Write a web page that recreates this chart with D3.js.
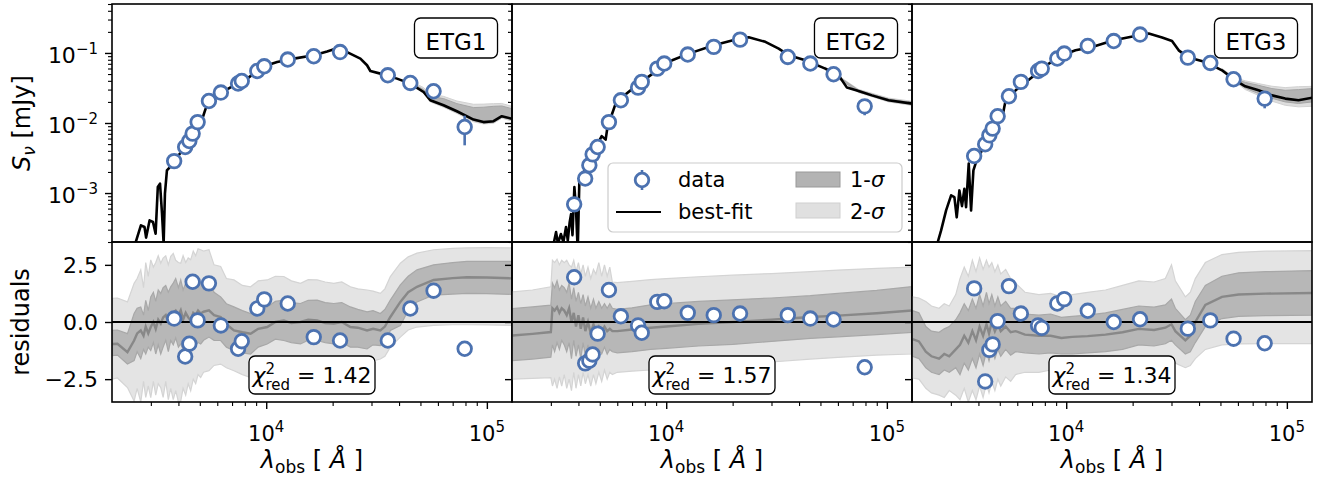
<!DOCTYPE html>
<html>
<head>
<meta charset="utf-8">
<script src="https://cdn.jsdelivr.net/npm/d3@7"></script>
<style>
  body { margin: 0; background: #fff; }
  text { font-family: "DejaVu Sans", sans-serif; fill: #000; }
</style>
</head>
<body>
<svg id="chart" width="1321" height="479"></svg>
<script>
// ---- data ----
const galaxies = ["ETG1", "ETG2", "ETG3"];
const chi2 = ["1.42", "1.57", "1.34"];

// photometric band centres [Angstrom], shared by all three galaxies
const bandWave = [3826, 4292, 4483, 4640, 4888, 5500, 6230, 7455, 7747, 9108, 9795, 12520, 16420, 21610, 35570, 44980, 57340, 79330];

// observed flux densities [mJy]
const etg1Flux = [2.86e-3, 4.54e-3, 5.53e-3, 7.06e-3, 1.03e-2, 2.06e-2, 2.72e-2, 3.66e-2, 3.98e-2, 5.53e-2, 6.45e-2, 8.05e-2, 8.97e-2, 0.103, 4.8e-2, 3.73e-2, 2.84e-2, 8.77e-3];
const etg2Flux = [6.9e-4, 1.61e-3, 2.49e-3, 3.57e-3, 4.54e-3, 1.03e-2, 2.11e-2, 3.2e-2, 3.86e-2, 5.98e-2, 7.06e-2, 9.49e-2, 0.122, 0.155, 8.77e-2, 7.06e-2, 4.97e-2, 1.73e-2];
const etg3Flux = [3.38e-3, 4.97e-3, 6.67e-3, 8.32e-3, 1.25e-2, 2.41e-2, 3.86e-2, 5.53e-2, 5.98e-2, 8.32e-2, 9.8e-2, 0.126, 0.148, 0.183, 8.59e-2, 7.2e-2, 4.21e-2, 2.23e-2];

// flux errors [mJy]
const etg1Err = [1.2e-4, 1.8e-4, 2.2e-4, 2.8e-4, 4e-4, 8e-4, 1e-3, 1.3e-3, 1.4e-3, 2e-3, 2.3e-3, 2.8e-3, 3e-3, 3.5e-3, 1.8e-3, 1.5e-3, 1.6e-3, 3.97e-3];
const etg2Err = [4e-5, 8e-5, 1.1e-4, 1.5e-4, 1.8e-4, 4e-4, 8e-4, 1.2e-3, 1.4e-3, 2e-3, 2.5e-3, 3.3e-3, 4e-3, 5e-3, 3e-3, 2.5e-3, 2.5e-3, 4.4e-3];
const etg3Err = [1.4e-4, 2e-4, 2.6e-4, 3.2e-4, 5e-4, 9e-4, 1.4e-3, 2e-3, 2.2e-3, 3e-3, 3.5e-3, 4.5e-3, 5e-3, 6e-3, 3e-3, 2.6e-3, 2.5e-3, 6.1e-3];

// normalised residuals
const etg1Resid = [0.15, -1.51, -0.95, 1.76, 0.07, 1.69, -0.15, -1.17, -0.84, 0.59, 0.99, 0.81, -0.66, -0.81, -0.81, 0.59, 1.37, -1.17];
const etg2Resid = [1.96, -1.81, -1.69, -1.42, -0.51, 1.40, 0.25, -0.15, -0.47, 0.88, 0.91, 0.40, 0.30, 0.37, 0.30, 0.15, 0.11, -1.98];
const etg3Resid = [1.47, -2.60, -1.22, -0.98, 0.04, 1.57, 0.37, -0.15, -0.26, 0.81, 1.00, 0.49, 0.00, 0.12, -0.29, 0.07, -0.73, -0.93];

// best-fit model spectra [wavelength, mJy]
const etg1Model = [[2400, 1.0e-4], [2570, 2.06e-4], [2704, 3.46e-4], [2808, 3.27e-4], [2855, 2.31e-4], [2960, 4.07e-4], [3067, 3.86e-4], [3153, 2.63e-4], [3226, 1.22e-3], [3301, 1.36e-3], [3370, 5.1e-4], [3428, 1.9e-4], [3475, 9.8e-4], [3548, 2.11e-3], [3661, 2.35e-3], [3770, 2.63e-3], [3955, 3.27e-3], [4390, 5.07e-3], [4873, 8.77e-3], [5133, 1.15e-2], [5315, 1.6e-2], [5503, 2.0e-2], [6216, 2.68e-2], [7140, 3.45e-2], [8204, 4.3e-2], [9107, 5.53e-2], [10104, 6.67e-2], [11210, 7.44e-2], [13340, 8.3e-2], [16430, 9.27e-2], [18880, 0.105], [20590, 0.115], [23250, 0.103], [26720, 8.3e-2], [28640, 6.67e-2], [29650, 5.53e-2], [32910, 5.07e-2], [39150, 4.3e-2], [44980, 3.65e-2], [51680, 2.77e-2], [55410, 2.11e-2], [63650, 1.79e-2], [73140, 1.47e-2], [87040, 1.12e-2], [96600, 1.03e-2], [107200, 1.06e-2], [116900, 1.25e-2], [129800, 1.15e-2]];
const etg2Model = [[3000, 1.0e-4], [3100, 2.0e-4], [3168, 2.77e-4], [3230, 1.9e-4], [3330, 2.6e-4], [3420, 2.0e-4], [3515, 3.27e-4], [3580, 2.1e-4], [3650, 3.8e-4], [3704, 5.0e-4], [3760, 2.5e-4], [3835, 1.22e-3], [3900, 6e-4], [3971, 1.5e-4], [4040, 1.52e-3], [4180, 1.8e-3], [4400, 2.8e-3], [4659, 4.5e-3], [4959, 5.5e-3], [5100, 6.5e-3], [5315, 5.8e-3], [5450, 1.0e-2], [5656, 1.29e-2], [5898, 1.89e-2], [6323, 2.35e-2], [7520, 3.65e-2], [9107, 5.65e-2], [10645, 7.86e-2], [12660, 9.78e-2], [16430, 0.129], [21320, 0.16], [23660, 0.168], [28140, 0.144], [32340, 0.115], [35890, 9.27e-2], [42710, 7.86e-2], [52600, 5.97e-2], [60430, 4.8e-2], [65920, 3.2e-2], [74420, 2.86e-2], [85530, 2.48e-2], [101700, 2.11e-2], [130600, 1.89e-2]];
const etg3Model = [[2560, 1.0e-4], [2617, 2.0e-4], [2710, 2.93e-4], [2855, 5.66e-4], [3008, 9.27e-4], [3113, 8.77e-4], [3189, 4.5e-4], [3280, 1.09e-3], [3370, 6.5e-4], [3455, 1.15e-3], [3516, 6.3e-4], [3615, 2.63e-3], [3705, 5.66e-4], [3796, 2.11e-3], [3902, 2.77e-3], [4315, 5.2e-3], [4789, 9.78e-3], [5133, 1.22e-2], [5315, 2.11e-2], [5898, 2.93e-2], [7019, 4.54e-2], [8349, 7.05e-2], [9592, 9.27e-2], [11020, 0.109], [13110, 0.122], [16430, 0.152], [21320, 0.179], [23660, 0.189], [27200, 0.166], [30170, 0.148], [32340, 0.109], [35890, 8.58e-2], [42710, 7.44e-2], [50810, 5.65e-2], [58370, 4.07e-2], [64790, 3.34e-2], [74420, 2.93e-2], [85530, 2.48e-2], [98280, 2.23e-2], [112900, 2.11e-2], [130600, 2.3e-2]];

// model uncertainty on the flux tail [wavelength, lo2, lo1, hi1, hi2]
const etg1TopBand = [[44980, 3.5e-2, 3.6e-2, 3.8e-2, 4.0e-2], [51680, 2.65e-2, 2.72e-2, 3.0e-2, 3.2e-2], [55410, 2.0e-2, 2.07e-2, 2.4e-2, 2.6e-2], [63650, 1.68e-2, 1.73e-2, 2.23e-2, 2.4e-2], [73140, 1.37e-2, 1.42e-2, 1.89e-2, 2.06e-2], [87040, 1.04e-2, 1.08e-2, 1.66e-2, 1.85e-2], [96600, 9.7e-3, 1.0e-2, 1.68e-2, 1.86e-2], [107200, 9.9e-3, 1.02e-2, 1.73e-2, 1.89e-2], [116900, 1.17e-2, 1.21e-2, 1.75e-2, 1.9e-2], [129800, 1.07e-2, 1.11e-2, 1.6e-2, 1.73e-2]];
const etg2TopBand = [[52600, 5.7e-2, 5.8e-2, 6.15e-2, 6.3e-2], [74420, 2.72e-2, 2.78e-2, 2.95e-2, 3.02e-2], [101700, 2.0e-2, 2.05e-2, 2.2e-2, 2.27e-2], [130600, 1.78e-2, 1.83e-2, 1.97e-2, 2.04e-2]];
const etg3TopBand = [[50810, 5.4e-2, 5.5e-2, 5.85e-2, 6.0e-2], [58370, 3.85e-2, 3.95e-2, 4.25e-2, 4.4e-2], [64790, 3.0e-2, 3.15e-2, 3.8e-2, 4.0e-2], [74420, 2.48e-2, 2.63e-2, 3.45e-2, 3.65e-2], [85530, 2.05e-2, 2.25e-2, 3.1e-2, 3.35e-2], [98280, 1.79e-2, 2.0e-2, 2.93e-2, 3.2e-2], [112900, 1.7e-2, 1.9e-2, 3.0e-2, 3.3e-2], [130600, 1.73e-2, 2.0e-2, 3.1e-2, 3.34e-2]];

// residual of the model posterior [wavelength, lo2, lo1, median, hi1, hi2]
const etg1ResBand = [[2010, -2.5, -1.47, -0.96, -0.37, 1.03], [2117, -2.45, -1.45, -0.95, -0.35, 1.05], [2350, -2.87, -1.84, -1.32, -0.51, 0.88], [2519, -3.46, -1.69, -0.81, 0.37, 1.69], [2600, -2.9, -1.3, -0.5, 0.6, 1.9], [2700, -3.5, -1.6, -0.37, 0.66, 2.28], [2780, -2.6, -1.2, -0.6, 0.3, 1.5], [2844, -3.3, -1.4, -0.2, 0.95, 2.6], [2920, -2.8, -1.1, -0.5, 0.5, 2.0], [2997, -3.31, -1.25, -0.22, 1.10, 2.72], [3080, -2.6, -0.9, 0.0, 1.3, 2.4], [3157, -3.2, -1.4, -0.3, 0.9, 2.6], [3240, -2.7, -1.0, 0.1, 1.4, 2.9], [3326, -2.87, -1.40, -0.07, 1.25, 2.57], [3410, -3.3, -1.1, 0.2, 1.5, 2.8], [3504, -2.6, -0.8, 0.3, 1.6, 2.9], [3600, -3.4, -1.3, 0.0, 1.3, 2.5], [3692, -2.9, -0.81, 0.22, 1.54, 2.87], [3790, -3.4, -1.0, 0.4, 1.7, 3.0], [3888, -3.0, -0.7, 0.5, 1.9, 2.7], [4000, -3.5, -1.1, 0.3, 1.5, 2.6], [4098, -3.46, -0.96, 0.51, 1.84, 2.57], [4200, -2.9, -1.2, 0.1, 1.4, 2.9], [4315, -3.2, -0.9, 0.4, 1.7, 2.6], [4430, -2.7, -1.1, 0.2, 1.5, 2.8], [4546, -3.01, -1.10, 0.07, 1.54, 2.72], [4670, -2.5, -0.8, 0.4, 1.8, 3.1], [4789, -2.7, -1.0, 0.3, 1.6, 2.9], [4910, -2.3, -0.9, 0.5, 1.9, 3.2], [5046, -2.43, -0.96, 0.37, 1.69, 3.16], [5200, -2.2, -0.8, 0.45, 1.8, 3.1], [5503, -2.13, -0.66, 0.51, 1.84, 3.16], [5800, -1.9, -0.8, 0.3, 1.3, 2.5], [6216, -1.84, -0.81, 0.22, 1.10, 2.43], [6600, -2.0, -1.1, -0.1, 0.8, 1.9], [7140, -2.13, -1.25, -0.37, 0.66, 1.84], [7800, -2.3, -1.35, -0.45, 0.5, 1.6], [8494, -2.43, -1.40, -0.51, 0.37, 1.54], [9200, -2.1, -1.1, -0.3, 0.6, 1.8], [10104, -1.84, -0.96, -0.22, 0.66, 1.84], [11000, -1.6, -0.75, 0.0, 0.9, 2.0], [12020, -1.54, -0.81, 0.07, 0.96, 1.99], [13000, -1.7, -0.9, -0.05, 0.85, 1.8], [14300, -1.69, -0.96, 0.0, 0.81, 1.69], [15500, -1.55, -0.8, 0.1, 0.95, 1.85], [17010, -1.54, -0.81, 0.07, 0.96, 1.84], [18500, -1.65, -0.9, -0.05, 0.85, 1.75], [20240, -1.69, -0.96, -0.07, 0.81, 1.69], [22000, -1.6, -0.9, 0.0, 0.85, 1.75], [24070, -1.76, -1.10, -0.22, 0.66, 1.54], [26000, -1.8, -1.1, -0.25, 0.55, 1.45], [28640, -1.84, -1.18, -0.37, 0.44, 1.40], [30500, -1.7, -1.0, -0.3, 0.5, 1.35], [32910, -1.62, -1.03, -0.37, 0.37, 1.25], [34500, -1.5, -0.9, -0.2, 0.55, 1.45], [36520, -1.10, -0.37, 0.22, 0.96, 1.99], [40540, -0.66, -0.15, 0.88, 1.62, 2.57], [44000, -0.35, 0.5, 1.3, 2.0, 2.85], [48230, -0.22, 0.88, 1.54, 2.28, 3.01], [57380, -0.15, 1.18, 1.84, 2.50, 3.16], [70000, -0.12, 1.22, 1.92, 2.6, 3.22], [81210, -0.12, 1.25, 1.96, 2.65, 3.24], [100000, -0.13, 1.24, 1.95, 2.65, 3.25], [129800, -0.15, 1.21, 1.91, 2.65, 3.24]];
const etg2ResBand = [[2010, -2.5, -1.69, -0.59, 0.59, 1.32], [2476, -2.47, -1.62, -0.52, 0.66, 1.40], [3000, -2.43, -1.54, -0.44, 0.74, 1.54], [3050, -2.8, -1.0, 0.6, 1.7, 2.7], [3120, -2.5, -1.3, 0.5, 1.5, 2.6], [3200, -2.9, -0.9, 0.65, 1.8, 2.75], [3280, -2.4, -1.2, 0.4, 1.4, 2.5], [3360, -2.8, -0.8, 0.6, 1.6, 2.7], [3450, -2.3, -1.0, 0.5, 1.5, 2.6], [3540, -2.9, -1.3, 0.3, 1.3, 2.7], [3630, -2.5, -0.9, 0.6, 1.7, 2.5], [3720, -3.0, -1.6, 0.0, 1.0, 2.4], [3810, -2.2, -0.8, 0.4, 1.5, 2.7], [3900, -2.9, -1.5, -0.2, 0.9, 2.2], [4000, -2.3, -1.0, 0.3, 1.3, 2.6], [4100, -2.8, -1.6, -0.3, 0.8, 2.1], [4200, -2.2, -0.9, 0.2, 1.2, 2.5], [4300, -2.7, -1.5, -0.4, 0.7, 2.0], [4420, -2.3, -1.0, 0.0, 1.1, 2.4], [4550, -2.8, -1.6, -0.5, 0.6, 1.9], [4680, -2.3, -1.1, -0.1, 1.0, 2.3], [4800, -2.7, -1.5, -0.4, 0.6, 2.1], [4950, -2.2, -1.2, -0.2, 0.9, 2.6], [5100, -2.6, -1.4, -0.4, 0.6, 2.0], [5250, -2.1, -1.1, -0.2, 0.8, 2.5], [5400, -2.5, -1.4, -0.4, 0.6, 2.0], [5550, -2.2, -1.2, -0.3, 0.8, 2.4], [5700, -2.3, -1.3, -0.4, 0.6, 1.75], [6000, -2.2, -1.35, -0.4, 0.55, 1.72], [7000, -2.15, -1.3, -0.33, 0.62, 1.78], [8500, -2.1, -1.2, -0.25, 0.75, 1.85], [10000, -2.05, -1.15, -0.2, 0.8, 1.9], [14000, -1.95, -1.05, -0.08, 0.9, 1.98], [20000, -1.85, -0.98, 0.0, 0.97, 2.05], [30000, -1.75, -0.85, 0.1, 1.05, 2.12], [45000, -1.62, -0.72, 0.22, 1.15, 2.2], [60000, -1.55, -0.65, 0.28, 1.25, 2.27], [90000, -1.45, -0.55, 0.38, 1.38, 2.35], [130000, -1.4, -0.45, 0.5, 1.55, 2.4]];
const etg3ResBand = [[2010, -2.45, -1.5, -0.75, 0.5, 1.1], [2150, -2.5, -1.6, -0.85, 0.4, 1.05], [2310, -2.9, -2.0, -1.3, -0.2, 0.9], [2450, -3.1, -2.2, -1.5, -0.4, 0.7], [2653, -3.2, -2.3, -1.6, -0.45, 0.6], [2800, -3.3, -2.1, -1.4, -0.3, 0.8], [2950, -3.0, -2.2, -1.5, -0.2, 0.7], [3157, -3.2, -2.0, -1.2, 0.1, 1.2], [3300, -3.4, -2.3, -1.0, 0.4, 1.9], [3450, -2.9, -1.8, -0.6, 0.8, 2.4], [3600, -3.5, -2.1, -0.9, 0.5, 2.0], [3755, -3.0, -1.6, -0.4, 1.0, 2.7], [3900, -3.4, -2.0, -0.8, 0.6, 2.2], [4050, -2.8, -1.4, -0.2, 1.2, 2.8], [4200, -3.3, -1.9, -0.6, 0.7, 2.3], [4350, -2.7, -1.3, -0.1, 1.3, 2.7], [4468, -3.1, -1.7, -0.5, 0.8, 2.4], [4600, -2.6, -1.2, 0.0, 1.2, 2.6], [4750, -3.0, -1.6, -0.4, 0.7, 2.2], [4900, -2.5, -1.2, -0.1, 1.1, 2.5], [5050, -2.8, -1.5, -0.4, 0.7, 2.1], [5315, -2.4, -1.2, -0.2, 0.9, 2.3], [5600, -2.6, -1.45, -0.45, 0.6, 1.9], [5898, -2.3, -1.3, -0.4, 0.6, 1.7], [6500, -2.2, -1.35, -0.55, 0.35, 1.3], [7520, -2.2, -1.4, -0.6, 0.3, 1.2], [8500, -2.1, -1.35, -0.6, 0.35, 1.25], [9500, -2.15, -1.4, -0.7, 0.2, 1.1], [10645, -2.2, -1.4, -0.65, 0.25, 1.2], [12500, -2.1, -1.35, -0.62, 0.3, 1.3], [15070, -2.0, -1.3, -0.55, 0.4, 1.4], [18000, -1.9, -1.2, -0.45, 0.55, 1.6], [21320, -1.75, -1.0, -0.3, 0.7, 1.8], [25000, -1.8, -1.05, -0.35, 0.65, 1.75], [28140, -1.7, -0.95, -0.25, 0.75, 1.9], [30000, -1.6, -0.8, -0.1, 1.0, 2.5], [31230, -1.8, -1.0, -0.4, 0.6, 1.8], [34670, -2.0, -1.4, -0.8, 0.1, 1.1], [36500, -1.9, -1.3, -0.6, 0.3, 1.3], [38470, -1.6, -0.9, 0.0, 0.9, 1.9], [42710, -1.2, -0.2, 0.75, 1.6, 2.6], [50810, -1.0, 0.15, 1.1, 2.0, 2.95], [60430, -0.96, 0.25, 1.2, 2.15, 3.05], [80000, -0.95, 0.28, 1.24, 2.2, 3.1], [130600, -0.95, 0.3, 1.27, 2.25, 3.12]];

// tick values
const fluxTicks = [1e-3, 1e-2, 1e-1];
const residTicks = [-2.5, 0, 2.5];
const waveTicks = [1e4, 1e5];

// ---- layout ----
const panelLeft = [112, 512, 912];
const panelW = 400;
const topY0 = 4, topY1 = 242, resY1 = 402;
const topH = topY1 - topY0, resH = resY1 - topY1;
const blue = "#4c72b0";

const fluxes = [etg1Flux, etg2Flux, etg3Flux];
const errs = [etg1Err, etg2Err, etg3Err];
const resids = [etg1Resid, etg2Resid, etg3Resid];
const models = [etg1Model, etg2Model, etg3Model];
const topBands = [etg1TopBand, etg2TopBand, etg3TopBand];
const resBands = [etg1ResBand, etg2ResBand, etg3ResBand];

const svg = d3.select("#chart");
const x = d3.scaleLog().domain([2000, 130000]).range([0, panelW]);
const yTop = d3.scaleLog().domain([2e-4, 0.5]).range([topH, 0]);
const yRes = d3.scaleLinear().domain([-3.5, 3.5]).range([resH, 0]);

const minorFlux = [];
[-4, -3, -2, -1].forEach(e => { for (let m = 1; m < 10; m++) minorFlux.push(m * Math.pow(10, e)); });
const minorFluxTicks = minorFlux.filter(v => v >= 2e-4 && v <= 0.5 && !fluxTicks.includes(v));
const minorWave = [];
[3, 4].forEach(e => { for (let m = 2; m < 10; m++) minorWave.push(m * Math.pow(10, e)); });

const expText = e => (e < 0 ? "\u2212" + (-e) : String(e));

function powLabel(t, e) {
  t.append("tspan").text("10");
  t.append("tspan").attr("font-size", "15px").attr("dy", -9).text(expText(e));
}

const defs = svg.append("defs");

panelLeft.forEach((left, i) => {
  // ---------- SED panel ----------
  const gTop = svg.append("g").attr("transform", `translate(${left},${topY0})`);
  defs.append("clipPath").attr("id", "clipTop" + i)
    .append("rect").attr("width", panelW).attr("height", topH);
  const plotTop = gTop.append("g").attr("clip-path", `url(#clipTop${i})`);

  const band2 = d3.area().x(d => x(d[0])).y0(d => yTop(d[1])).y1(d => yTop(d[4]));
  const band1 = d3.area().x(d => x(d[0])).y0(d => yTop(d[2])).y1(d => yTop(d[3]));
  plotTop.append("path").datum(topBands[i]).attr("d", band2)
    .attr("fill", "#dedede").attr("stroke", "#d2d2d2").attr("stroke-width", 1);
  plotTop.append("path").datum(topBands[i]).attr("d", band1)
    .attr("fill", "#b4b4b4").attr("stroke", "#a6a6a6").attr("stroke-width", 1);

  plotTop.append("path").datum(models[i])
    .attr("d", d3.line().x(d => x(d[0])).y(d => yTop(d[1])))
    .attr("fill", "none").attr("stroke", "#000").attr("stroke-width", 2.6)
    .attr("stroke-linejoin", "round");

  const pts = bandWave.map((w, k) => ({ w, f: fluxes[i][k], e: errs[i][k] }));
  gTop.selectAll(".err").data(pts).join("line")
    .attr("x1", d => x(d.w)).attr("x2", d => x(d.w))
    .attr("y1", d => yTop(d.f - d.e)).attr("y2", d => yTop(d.f + d.e))
    .attr("stroke", blue).attr("stroke-width", 2.6);
  gTop.selectAll(".pt").data(pts).join("circle")
    .attr("cx", d => x(d.w)).attr("cy", d => yTop(d.f)).attr("r", 6.8)
    .attr("fill", "#fff").attr("stroke", blue).attr("stroke-width", 2.8);

  // y ticks
  gTop.append("g").call(d3.axisLeft(yTop).tickValues(fluxTicks).tickSize(7).tickFormat(""))
    .call(a => a.select(".domain").remove())
    .call(a => a.selectAll("line").attr("stroke-width", 1.4));
  gTop.append("g").call(d3.axisLeft(yTop).tickValues(minorFluxTicks).tickSize(4).tickFormat(""))
    .call(a => a.select(".domain").remove())
    .call(a => a.selectAll("line").attr("stroke-width", 1.1));
  if (i === 0) {
    fluxTicks.forEach(v => {
      const t = gTop.append("text").attr("x", -14).attr("y", yTop(v) + 10)
        .attr("text-anchor", "end").attr("font-size", "22px");
      powLabel(t, Math.round(Math.log10(v)));
    });
  }

  gTop.append("rect").attr("width", panelW).attr("height", topH)
    .attr("fill", "none").attr("stroke", "#000").attr("stroke-width", 1.6);

  // galaxy label box
  const lab = gTop.append("g");
  const lt = lab.append("text").attr("x", panelW - 56).attr("y", 46)
    .attr("text-anchor", "middle").attr("font-size", "23px").text(galaxies[i]);
  const bb = lt.node().getBBox();
  lab.insert("rect", "text")
    .attr("x", bb.x - 11).attr("y", 14).attr("width", bb.width + 22).attr("height", 40)
    .attr("rx", 6).attr("fill", "#fff").attr("stroke", "#000").attr("stroke-width", 1.3);

  // ---------- residual panel ----------
  const gRes = svg.append("g").attr("transform", `translate(${left},${topY1})`);
  defs.append("clipPath").attr("id", "clipRes" + i)
    .append("rect").attr("width", panelW).attr("height", resH);
  const plotRes = gRes.append("g").attr("clip-path", `url(#clipRes${i})`);

  const rb2 = d3.area().x(d => x(d[0])).y0(d => yRes(d[1])).y1(d => yRes(d[5]));
  const rb1 = d3.area().x(d => x(d[0])).y0(d => yRes(d[2])).y1(d => yRes(d[4]));
  plotRes.append("path").datum(resBands[i]).attr("d", rb2)
    .attr("fill", "#e4e4e4").attr("stroke", "#d4d4d4").attr("stroke-width", 1.2);
  plotRes.append("path").datum(resBands[i]).attr("d", rb1)
    .attr("fill", "#b7b7b7").attr("stroke", "#a8a8a8").attr("stroke-width", 1.2);
  plotRes.append("path").datum(resBands[i])
    .attr("d", d3.line().x(d => x(d[0])).y(d => yRes(d[3])))
    .attr("fill", "none").attr("stroke", "#888888").attr("stroke-width", 2.4);

  plotRes.append("line").attr("x1", 0).attr("x2", panelW)
    .attr("y1", yRes(0)).attr("y2", yRes(0)).attr("stroke", "#000").attr("stroke-width", 2);

  const rpts = bandWave.map((w, k) => ({ w, r: resids[i][k] }));
  gRes.selectAll(".rpt").data(rpts).join("circle")
    .attr("cx", d => x(d.w)).attr("cy", d => yRes(d.r)).attr("r", 6.8)
    .attr("fill", "#fff").attr("stroke", blue).attr("stroke-width", 2.8);

  gRes.append("g").call(d3.axisLeft(yRes).tickValues(residTicks).tickSize(7).tickFormat(""))
    .call(a => a.select(".domain").remove())
    .call(a => a.selectAll("line").attr("stroke-width", 1.4));
  if (i === 0) {
    residTicks.forEach(v => {
      gRes.append("text").attr("x", -14).attr("y", yRes(v) + 8)
        .attr("text-anchor", "end").attr("font-size", "22px")
        .text(v < 0 ? "\u2212" + (-v).toFixed(1) : v.toFixed(1));
    });
  }

  gRes.append("g").attr("transform", `translate(0,${resH})`)
    .call(d3.axisBottom(x).tickValues(waveTicks).tickSize(7).tickFormat(""))
    .call(a => a.select(".domain").remove())
    .call(a => a.selectAll("line").attr("stroke-width", 1.4));
  gRes.append("g").attr("transform", `translate(0,${resH})`)
    .call(d3.axisBottom(x).tickValues(minorWave.filter(v => v > 2000 && v < 130000)).tickSize(4).tickFormat(""))
    .call(a => a.select(".domain").remove())
    .call(a => a.selectAll("line").attr("stroke-width", 1.1));
  waveTicks.forEach(v => {
    const t = gRes.append("text").attr("x", x(v)).attr("y", resH + 39)
      .attr("text-anchor", "middle").attr("font-size", "21px");
    powLabel(t, Math.round(Math.log10(v)));
  });

  gRes.append("rect").attr("width", panelW).attr("height", resH)
    .attr("fill", "none").attr("stroke", "#000").attr("stroke-width", 1.6);

  // reduced chi-square box
  const cg = gRes.append("g");
  const ct = cg.append("text").attr("x", panelW / 2).attr("y", 141)
    .attr("text-anchor", "middle").attr("font-size", "22px");
  ct.append("tspan").attr("font-style", "italic").text("\u03c7");
  ct.append("tspan").attr("font-size", "15px").attr("dy", -9).text("2");
  ct.append("tspan").attr("font-size", "15px").attr("dx", -9.5).attr("dy", 16).text("red");
  ct.append("tspan").attr("dy", -7).text(" = " + chi2[i]);
  cg.insert("rect", "text")
    .attr("x", panelW / 2 - 63).attr("y", 114).attr("width", 126).attr("height", 38)
    .attr("rx", 6).attr("fill", "#fff").attr("stroke", "#000").attr("stroke-width", 1.3);

  // x axis label
  const xl = svg.append("text").attr("x", left + panelW / 2).attr("y", 468)
    .attr("text-anchor", "middle").attr("font-size", "24px");
  xl.append("tspan").attr("font-style", "italic").text("\u03bb");
  xl.append("tspan").attr("font-size", "17px").attr("dy", 5).text("obs");
  xl.append("tspan").attr("dy", -5).text(" [ ");
  xl.append("tspan").attr("font-style", "italic").text("\u00c5");
  xl.append("tspan").text(" ]");
});

// y axis labels
const yl = svg.append("text").attr("transform", "translate(30,123) rotate(-90)")
  .attr("text-anchor", "middle").attr("font-size", "24px");
yl.append("tspan").attr("font-style", "italic").text("S");
yl.append("tspan").attr("font-style", "italic").attr("font-size", "17px").attr("dy", 5).text("\u03bd");
yl.append("tspan").attr("dy", -5).text(" [mJy]");

svg.append("text").attr("transform", "translate(29,322) rotate(-90)")
  .attr("text-anchor", "middle").attr("font-size", "24px").text("residuals");

// ---------- legend ----------
const lg = svg.append("g");
lg.append("rect").attr("x", 608).attr("y", 163).attr("width", 294).attr("height", 69)
  .attr("rx", 5).attr("fill", "#fff").attr("fill-opacity", 0.85)
  .attr("stroke", "#cccccc").attr("stroke-width", 1.2);
lg.append("line").attr("x1", 642).attr("x2", 642).attr("y1", 170).attr("y2", 190)
  .attr("stroke", blue).attr("stroke-width", 2.6);
lg.append("circle").attr("cx", 642).attr("cy", 180).attr("r", 6.8)
  .attr("fill", "#fff").attr("stroke", blue).attr("stroke-width", 2.8);
lg.append("text").attr("x", 678).attr("y", 187).attr("font-size", "21px").text("data");
lg.append("line").attr("x1", 616).attr("x2", 661).attr("y1", 212).attr("y2", 212)
  .attr("stroke", "#000").attr("stroke-width", 2.2);
lg.append("text").attr("x", 678).attr("y", 219).attr("font-size", "21px").text("best-fit");
lg.append("rect").attr("x", 796).attr("y", 172).attr("width", 44).attr("height", 15)
  .attr("fill", "#b3b3b3").attr("stroke", "#999999").attr("stroke-width", 1);
lg.append("rect").attr("x", 796).attr("y", 203).attr("width", 44).attr("height", 15)
  .attr("fill", "#e0e0e0").attr("stroke", "#cfcfcf").attr("stroke-width", 1);
[["1-", 187], ["2-", 219]].forEach(([s, yy]) => {
  const t = lg.append("text").attr("x", 850).attr("y", yy).attr("font-size", "21px");
  t.append("tspan").text(s);
  t.append("tspan").attr("font-style", "italic").text("\u03c3");
});
</script>
</body>
</html>
